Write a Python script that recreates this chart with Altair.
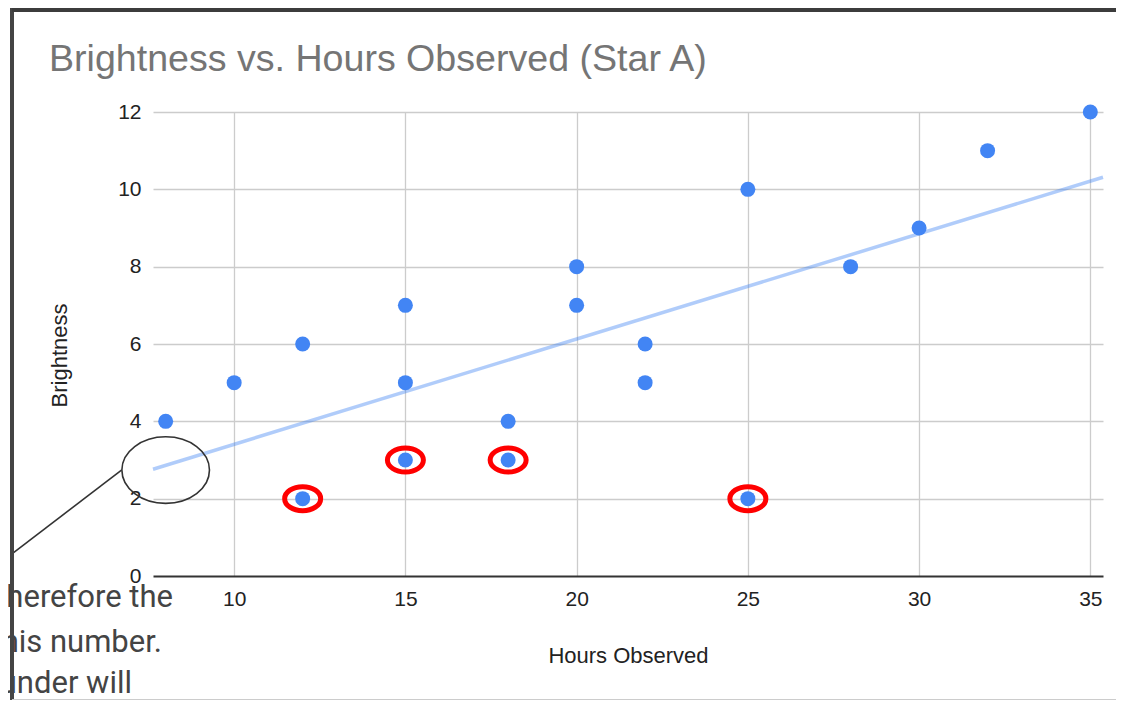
import altair as alt
import pandas as pd

# ---- data ----
hours = [8, 10, 12, 12, 15, 15, 15, 18, 18, 20, 20, 22, 22, 25, 25, 28, 30, 32, 35]
brightness = [4, 5, 6, 2, 7, 5, 3, 4, 3, 8, 7, 6, 5, 10, 2, 8, 9, 11, 12]

# points circled in red in the reference
circled_hours = [12, 15, 18, 25]
circled_brightness = [2, 3, 3, 2]

# black annotation ellipse (around the trendline start) and its leader line
note_x = [8]
note_y = [2.74]
leader_x = [3.54]
leader_y = [0.59]
leader_x2 = [6.71]
leader_y2 = [2.74]

x_ticks = [10, 15, 20, 25, 30, 35]
y_ticks = [0, 2, 4, 6, 8, 10, 12]
x_domain = [7.63, 35.37]
y_domain = [0, 12]

side_text = ["Therefore the", "this number.", "under will"]

title_text = "Brightness vs. Hours Observed (Star A)"

df = pd.DataFrame({"Hours Observed": hours, "Brightness": brightness})
df_circ = pd.DataFrame({"Hours Observed": circled_hours, "Brightness": circled_brightness})
df_note = pd.DataFrame({"Hours Observed": note_x, "Brightness": note_y})
df_leader = pd.DataFrame({"x": leader_x, "y": leader_y, "x2": leader_x2, "y2": leader_y2})
dummy = pd.DataFrame({"k": [0]})


def ellipse_path(ratio):
    k = 0.5523
    b = ratio
    bk = b * k
    return (f"M-1,0C-1,{-bk:.4f},{-k},{-b:.4f},0,{-b:.4f}"
            f"C{k},{-b:.4f},1,{-bk:.4f},1,0"
            f"C1,{bk:.4f},{k},{b:.4f},0,{b:.4f}"
            f"C{-k},{b:.4f},-1,{bk:.4f},-1,0Z")


LABEL_FONT = "Liberation Sans"

xscale = alt.Scale(domain=x_domain, nice=False, zero=False)
yscale = alt.Scale(domain=y_domain, nice=False, zero=False)

x_axis = alt.Axis(
    values=x_ticks, title="Hours Observed", grid=True, gridColor="#cccccc", gridWidth=1.3,
    domain=False, ticks=False, tickSize=0, labelPadding=29, labelBaseline="alphabetic",
    labelFont=LABEL_FONT, labelFontSize=21, labelColor="#222222",
    titleFont=LABEL_FONT, titleFontSize=22, titleFontWeight="normal", titleColor="#222222",
    titleX=475, titleY=86, titleBaseline="alphabetic", titleAlign="center",
)
y_axis = alt.Axis(
    values=y_ticks, title="Brightness", grid=True,
    gridColor={"condition": {"test": "datum.value === 0", "value": "#333333"}, "value": "#cccccc"},
    gridWidth={"condition": {"test": "datum.value === 0", "value": 1.8}, "value": 1.3},
    domain=False, ticks=False, tickSize=0, labelPadding=12,
    labelFont=LABEL_FONT, labelFontSize=21, labelColor="#222222",
    titleFont=LABEL_FONT, titleFontSize=22, titleFontWeight="normal", titleColor="#222222",
    titleX=-87, titleY=243, titleAngle=270, titleBaseline="alphabetic", titleAlign="center",
)

X = alt.X("Hours Observed:Q", scale=xscale, axis=x_axis)
Y = alt.Y("Brightness:Q", scale=yscale, axis=y_axis)

trend = alt.Chart(df).transform_regression(
    "Hours Observed", "Brightness", method="linear", extent=x_domain
).mark_line(color="#4285F4", opacity=0.42, strokeWidth=3.5).encode(x=X, y=Y)

points = alt.Chart(df).mark_circle(size=225, opacity=1, color="#4285F4").encode(x=X, y=Y)

red_rings = alt.Chart(df_circ).mark_point(
    shape=ellipse_path(0.667), size=1296, filled=False, color="#ff0000",
    strokeWidth=5, opacity=1
).encode(x=X, y=Y)

note_ring = alt.Chart(df_note).mark_point(
    shape=ellipse_path(0.76), size=7674, filled=False, color="#333333",
    strokeWidth=1.6, opacity=1
).encode(x=X, y=Y)

leader = alt.Chart(df_leader).mark_rule(color="#333333", strokeWidth=1.6).encode(
    x=alt.X("x:Q", scale=xscale), y=alt.Y("y:Q", scale=yscale),
    x2="x2:Q", y2="y2:Q"
)

text_layers = []
for i, (line, rx, by) in enumerate(zip(side_text, [20, 9, -21], [494.7, 539.7, 581.3])):
    text_layers.append(
        alt.Chart(pd.DataFrame({"t": [line]})).mark_text(
            align="right", baseline="alphabetic", font="Roboto", fontSize=31, color="#444444"
        ).encode(x=alt.value(rx), y=alt.value(by), text="t:N")
    )

left_border = alt.Chart(dummy).mark_rule(color="#444444", strokeWidth=4).encode(
    x=alt.value(-141), y=alt.value(-104), y2=alt.value(588))
top_border = alt.Chart(dummy).mark_rule(color="#3c3c3c", strokeWidth=4).encode(
    x=alt.value(-141), x2=alt.value(965), y=alt.value(-102))
bottom_border = alt.Chart(dummy).mark_rule(color="#cccccc", strokeWidth=1).encode(
    x=alt.value(-141), x2=alt.value(965), y=alt.value(587.5))

chart = alt.layer(
    trend, points, red_rings, note_ring, leader, *text_layers,
    left_border, top_border, bottom_border
).properties(
    width=950, height=464,
    title=alt.TitleParams(
        title_text, anchor="start", frame="group", dx=-104, dy=103, offset=0,
        baseline="alphabetic", font=LABEL_FONT, fontSize=37.6, fontWeight="normal",
        color="#757575",
    ),
    autosize=alt.AutoSizeParams(type="none"),
    padding={"left": 145, "top": 104, "right": 13, "bottom": 124},
).configure_view(stroke=None)

chart.save("out.html", embed_options={"renderer": "svg", "actions": False})
